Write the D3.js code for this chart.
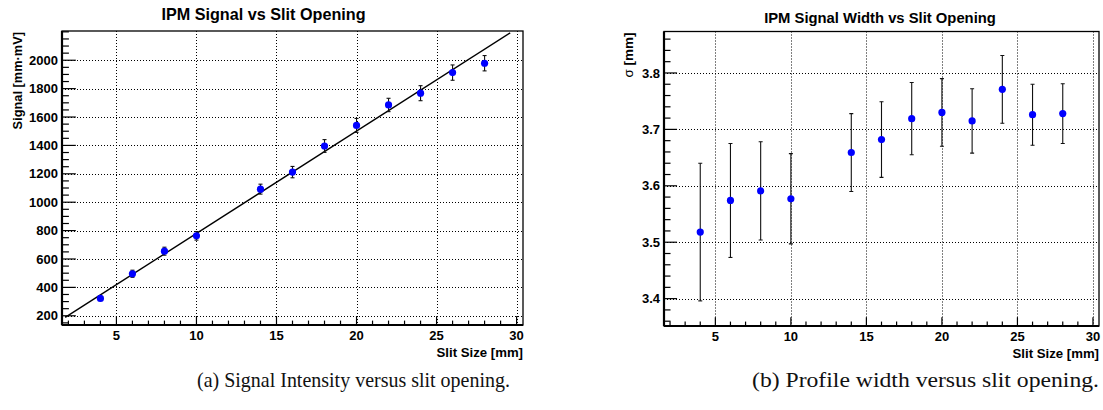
<!DOCTYPE html>
<html>
<head>
<meta charset="utf-8">
<script src="https://cdn.jsdelivr.net/npm/d3@7"></script>
<style>
  html, body { margin: 0; padding: 0; background: #fff; }
  svg { display: block; }
  text { font-family: "Liberation Sans", Arial, Helvetica, sans-serif; }
  text.caption { font-family: "Liberation Serif", "DejaVu Serif", serif; }
</style>
</head>
<body>
<svg id="chart" width="1103" height="410"></svg>
<script>
// ---------- data ----------
const slitSizes = [4, 6, 8, 10, 14, 16, 18, 20, 22, 24, 26, 28];

// Panel (a): signal intensity
const signalValues = [322, 496, 655, 763, 1092, 1212, 1396, 1541, 1685, 1768, 1913, 1979];
const signalErrors = [15, 25, 28, 30, 35, 40, 45, 49, 47, 53, 54, 54];
const fitSlope = 72.1;
const fitIntercept = 59;
const fitRange = [1.8, 29.6];

// Panel (b): profile width
const sigmaValues = [3.518, 3.574, 3.591, 3.577, 3.659, 3.682, 3.719, 3.730, 3.715, 3.771, 3.726, 3.728];
const sigmaErrors = [0.122, 0.101, 0.087, 0.080, 0.069, 0.067, 0.064, 0.060, 0.057, 0.060, 0.054, 0.053];

// axis ranges and tick labels
const xDomain = [1.6, 30.4];
const xTickValues = [5, 10, 15, 20, 25, 30];
const signalDomain = [135, 2206];
const signalTickValues = [200, 400, 600, 800, 1000, 1200, 1400, 1600, 1800, 2000];
const sigmaDomain = [3.3515, 3.8735];
const sigmaTickValues = [3.4, 3.5, 3.6, 3.7, 3.8];

const titles = ["IPM Signal vs Slit Opening", "IPM Signal Width vs Slit Opening"];
const captions = ["(a) Signal Intensity versus slit opening.", "(b) Profile width versus slit opening."];

// ---------- drawing ----------
const svg = d3.select("#chart");

function drawPanel(cfg) {
  const g = svg.append("g");
  const x = d3.scaleLinear().domain(xDomain).range([cfg.left, cfg.right]);
  const y = d3.scaleLinear().domain(cfg.yDomain).range([cfg.bottom, cfg.top]);
  const w = cfg.right - cfg.left, h = cfg.bottom - cfg.top;
  const clipId = "clip" + cfg.id;
  svg.append("clipPath").attr("id", clipId)
    .append("rect").attr("x", cfg.left).attr("y", cfg.top).attr("width", w).attr("height", h);

  // grid
  const grid = g.append("g").attr("stroke", "#000").attr("stroke-width", 1)
    .attr("stroke-dasharray", "1,2").attr("fill", "none");
  grid.selectAll("line.gx").data(xTickValues).join("line")
    .attr("x1", d => Math.round(x(d)) + 0.5).attr("x2", d => Math.round(x(d)) + 0.5)
    .attr("y1", cfg.top).attr("y2", cfg.bottom);
  grid.selectAll("line.gy").data(cfg.yTicks).join("line")
    .attr("y1", d => Math.round(y(d)) + 0.5).attr("y2", d => Math.round(y(d)) + 0.5)
    .attr("x1", cfg.left).attr("x2", cfg.right);

  // ticks (inward, ROOT style)
  const tickG = g.append("g").attr("stroke", "#000").attr("stroke-width", 1.2);
  const xMinor = d3.range(Math.ceil(xDomain[0]), Math.floor(xDomain[1]) + 1, 1);
  const xMajorLen = 0.03 * h, yMajorLen = 0.03 * w;
  tickG.selectAll("line.xt").data(xMinor).join("line")
    .attr("x1", d => x(d)).attr("x2", d => x(d))
    .attr("y1", cfg.bottom).attr("y2", d => cfg.bottom - (d % 5 === 0 ? xMajorLen : xMajorLen / 2));
  const yMinor = d3.range(Math.ceil(cfg.yDomain[0] / cfg.yMinorStep - 1e-9), Math.floor(cfg.yDomain[1] / cfg.yMinorStep + 1e-9) + 1)
    .map(k => k * cfg.yMinorStep);
  const isMajor = d => cfg.yTicks.some(t => Math.abs(t - d) < cfg.yMinorStep / 10);
  tickG.selectAll("line.yt").data(yMinor).join("line")
    .attr("y1", d => y(d)).attr("y2", d => y(d))
    .attr("x1", cfg.left).attr("x2", d => cfg.left + (isMajor(d) ? yMajorLen : yMajorLen / 2));

  // frame
  g.append("rect").attr("x", cfg.left).attr("y", cfg.top).attr("width", w).attr("height", h)
    .attr("fill", "none").attr("stroke", "#000").attr("stroke-width", 1.3);
  g.append("line").attr("x1", cfg.left).attr("x2", cfg.right).attr("y1", cfg.bottom).attr("y2", cfg.bottom)
    .attr("stroke", "#000").attr("stroke-width", 2.2);
  g.append("line").attr("x1", cfg.left).attr("x2", cfg.left).attr("y1", cfg.top).attr("y2", cfg.bottom)
    .attr("stroke", "#000").attr("stroke-width", 2.2);

  // tick labels
  g.append("g").selectAll("text").data(xTickValues).join("text")
    .attr("x", d => x(d)).attr("y", cfg.bottom + 15).attr("text-anchor", "middle")
    .attr("font-size", 13).attr("font-weight", "bold").text(d => d);
  g.append("g").selectAll("text").data(cfg.yTicks).join("text")
    .attr("x", cfg.left - 4).attr("y", d => y(d) + 4.6).attr("text-anchor", "end")
    .attr("font-size", 13).attr("font-weight", "bold").text(cfg.yFormat);

  // axis titles
  g.append("text").attr("x", cfg.right).attr("y", cfg.bottom + 32).attr("text-anchor", "end")
    .attr("font-size", 13.2).attr("font-weight", "bold").text("Slit Size [mm]");
  const yt = g.append("text").attr("transform", `translate(${cfg.yTitleX},${cfg.top + 1}) rotate(-90)`)
    .attr("text-anchor", "end").attr("font-size", cfg.yTitleSize).attr("font-weight", "bold");
  cfg.yTitle(yt);

  // title
  g.append("text").attr("x", cfg.titleX).attr("y", cfg.titleY).attr("text-anchor", "middle")
    .attr("font-size", cfg.titleSize).attr("font-weight", "bold").text(cfg.title);

  // data layer (clipped)
  const data = slitSizes.map((s, i) => ({ x: s, y: cfg.values[i], e: cfg.errors[i] }));
  const dl = g.append("g").attr("clip-path", `url(#${clipId})`);
  if (cfg.fit) {
    const line = d3.line().x(d => x(d)).y(d => y(cfg.fit(d)));
    dl.append("path").datum(fitRange).attr("d", line)
      .attr("fill", "none").attr("stroke", "#000").attr("stroke-width", 1.4);
  }
  const eb = dl.append("g").attr("stroke", "#111").attr("stroke-width", 1.1);
  eb.selectAll("line.v").data(data).join("line")
    .attr("x1", d => x(d.x)).attr("x2", d => x(d.x))
    .attr("y1", d => y(d.y - d.e)).attr("y2", d => y(d.y + d.e));
  eb.selectAll("line.c1").data(data).join("line")
    .attr("x1", d => x(d.x) - 2).attr("x2", d => x(d.x) + 2)
    .attr("y1", d => y(d.y + d.e)).attr("y2", d => y(d.y + d.e));
  eb.selectAll("line.c2").data(data).join("line")
    .attr("x1", d => x(d.x) - 2).attr("x2", d => x(d.x) + 2)
    .attr("y1", d => y(d.y - d.e)).attr("y2", d => y(d.y - d.e));
  dl.append("g").selectAll("circle").data(data).join("circle")
    .attr("cx", d => x(d.x)).attr("cy", d => y(d.y)).attr("r", 3.6).attr("fill", "#0000ff");

  // caption
  svg.append("text").attr("class", "caption").attr("x", cfg.captionX).attr("y", 387)
    .attr("font-size", 21)
    .attr("textLength", cfg.captionLen).attr("lengthAdjust", "spacingAndGlyphs")
    .attr("fill", "#111").text(cfg.caption);
}

drawPanel({
  id: "a", left: 62, right: 523, top: 31, bottom: 325,
  yDomain: signalDomain, yTicks: signalTickValues, yMinorStep: 50, yFormat: d => d,
  values: signalValues, errors: signalErrors,
  fit: s => fitSlope * s + fitIntercept,
  title: titles[0], titleX: 263.5, titleY: 19.5, titleSize: 16.2,
  yTitleX: 22, yTitleSize: 12.8,
  yTitle: t => t.text("Signal [mm\u00B7mV]"),
  caption: captions[0], captionX: 197, captionLen: 313
});

drawPanel({
  id: "b", left: 664, right: 1099, top: 31.5, bottom: 326,
  yDomain: sigmaDomain, yTicks: sigmaTickValues, yMinorStep: 0.02, yFormat: d => d.toFixed(1),
  values: sigmaValues, errors: sigmaErrors, fit: null,
  title: titles[1], titleX: 880, titleY: 23, titleSize: 14.8,
  yTitleX: 633, yTitleSize: 13.5,
  yTitle: t => { t.append("tspan").attr("font-weight", "normal").text("\u03C3 "); t.append("tspan").text("[mm]"); },
  caption: captions[1], captionX: 752, captionLen: 347
});
</script>
</body>
</html>
